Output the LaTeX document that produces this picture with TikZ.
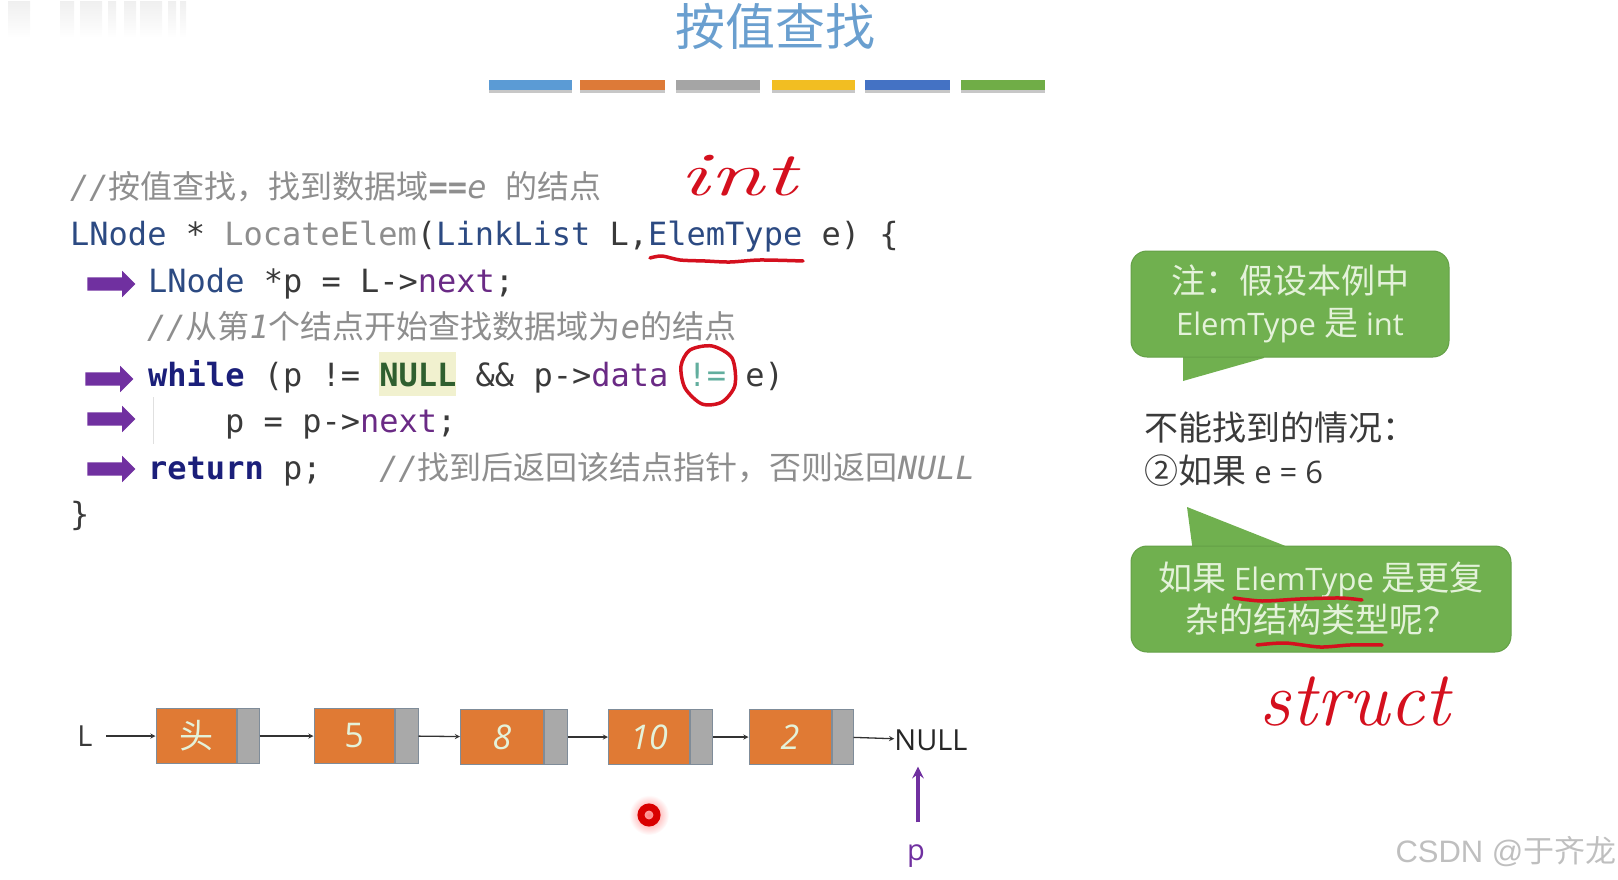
\documentclass[tikz,border=0pt]{standalone}
\usepackage{fontspec}
\setmonofont{DejaVu Sans Mono}
\newfontfamily\cjk{Noto Sans CJK SC}
\newfontfamily\ui{Open Sans}
\usetikzlibrary{shapes.arrows}
\definecolor{titleblue}{HTML}{6A9FCF}
\definecolor{codedark}{HTML}{3A3A3A}
\definecolor{cmtgray}{HTML}{8E8E8E}
\definecolor{kwnavy}{HTML}{1B1F7A}
\definecolor{tyblue}{HTML}{2C4A82}
\definecolor{fdpurple}{HTML}{6A2A85}
\definecolor{nullbg}{HTML}{F1F1CF}
\definecolor{nullgreen}{HTML}{2F5F2F}
\definecolor{neteal}{HTML}{62AE9E}
\definecolor{arrowpurple}{HTML}{7030A0}
\definecolor{calloutgreen}{HTML}{70B04F}
\definecolor{calloutline}{HTML}{64A047}
\definecolor{paletext}{HTML}{E4F2DA}
\definecolor{boxorange}{HTML}{E07A34}
\definecolor{boxgray}{HTML}{A9A9A9}
\definecolor{boxedge}{HTML}{7F8C99}
\definecolor{inkred}{HTML}{D4101E}
\newcommand{\kw}[1]{{\bfseries\color{kwnavy}#1}}
\newcommand{\ty}[1]{{\color{tyblue}#1}}
\newcommand{\fd}[1]{{\color{fdpurple}#1}}
\newcommand{\zh}[1]{{\cjk #1}}
\newcommand{\zhl}[1]{{\cjk\fontsize{34}{42}\selectfont #1}}
\tikzset{
	codeline/.style={anchor=base west, inner sep=0pt, text=codedark, font=\ttfamily\fontsize{32}{38}\selectfont},
	cmtline/.style={codeline, text=cmtgray},
	pointer/.style={single arrow, draw=none, fill=arrowpurple, inner xsep=0pt, inner ysep=6.5pt, minimum height=48pt, minimum width=26pt, single arrow head extend=6.5pt, single arrow head indent=0pt},
	callout/.style={fill=calloutgreen, draw=calloutline, line width=1pt, rounded corners=16pt, text=paletext, align=center, inner sep=0pt, font=\ui\fontsize{31}{42}\selectfont},
	datacell/.style={fill=boxorange, draw=boxedge, line width=1pt, minimum height=55pt, inner sep=0pt, text=paletext, font=\ui\fontsize{34}{40}\selectfont},
	nextcell/.style={fill=boxgray, draw=boxedge, line width=1pt, minimum height=55pt, inner sep=0pt},
	link/.style={->, line width=1.3pt, color=black!80},
	ink/.style={color=inkred, line width=3.5pt, line cap=round, line join=round},
	inktext/.style={text=inkred, inner sep=0pt, font=\itshape\fontsize{#1}{#1}\selectfont}
}
\begin{document}
\begin{tikzpicture}[x=1pt, y=-1pt, >=stealth]
	\useasboundingbox (0,0) rectangle (1618,880);
	% 1. 左上角残影与标题色条
	\foreach \gx/\gw in {8/22, 60/14, 80/22, 108/8, 124/12, 140/22, 168/8, 180/6}
		\shade[top color=black!6, bottom color=white] (\gx,2) rectangle ++(\gw,36);
	\node[text=titleblue, inner sep=0pt, font=\cjk\fontsize{50}{50}\selectfont] (title) at (775,26) {按值查找};
	\foreach \bx/\bw/\bc in {489/83/5B9BD5, 580/85/DD7A38, 676/84/A5A5A5, 772/83/F2BE22, 865/85/4472C4, 961/84/70AD47}{
		\definecolor{barcolor}{HTML}{\bc}
		\fill[black!22] (\bx,83) rectangle ++(\bw,10);
		\fill[barcolor] (\bx,80) rectangle ++(\bw,10);
	}
	
	% 2. 代码行
	\fill[nullbg] (379,352) rectangle (456,396);
	\draw[black!12, line width=1pt] (153,397) -- (153,444);
	\node[cmtline] (code1) at (70,199) {\itshape //\zh{\upshape 按值查找，找到数据域}\bfseries ==\mdseries e~\zh{\upshape 的结点}};
	\node[codeline] (code2) at (70,245) {\ty{LNode} * {\color{cmtgray}LocateElem}(\ty{LinkList} L,\ty{ElemType} e) \{};
	\node[codeline] (code3) at (148,292) {\ty{LNode} *p = L->\fd{next};};
	\node[cmtline] (code4) at (147,338) {\itshape //\zh{\upshape 从第}1\zh{\upshape 个结点开始查找数据域为}e\zh{\upshape 的结点}};
	\node[codeline] (code5) at (148,386) {\kw{while} (p != {\bfseries\color{nullgreen}NULL} \&\& p->\fd{data} {\color{neteal}!=} e)};
	\node[codeline] (code6) at (225,432) {p = p->\fd{next};};
	\node[codeline] (code7) at (148,479) {\kw{return} p;~~~{\color{cmtgray}\itshape //\zh{\upshape 找到后返回该结点指针，否则返回}NULL}};
	\node[codeline] (code8) at (70,525) {\}};
	
	% 3. 紫色指示箭头
	\node[pointer] (arrow1) at (108,284) {};
	\node[pointer] (arrow2) at (106,379) {};
	\node[pointer] (arrow3) at (108,419) {};
	\node[pointer] (arrow4) at (108,469) {};
	
	% 4. 右侧绿色提示框
	\fill[calloutgreen] (1183,350) -- (1183,381) -- (1264,358) -- (1264,350) -- cycle;
	\node[callout, minimum width=318pt, minimum height=106pt] (note) at (1290,304) {\zhl{注：假设本例中}\\ElemType \zhl{是} int};
	\fill[calloutgreen] (1193,552) -- (1187,507) -- (1288,547) -- (1288,552) -- cycle;
	\node[callout, minimum width=380pt, minimum height=106pt] (struct) at (1321,599) {\zhl{如果} ElemType \zhl{是更复}\\\zhl{杂的结构类型呢？}};
	\node[anchor=base west, inner sep=0pt, text=codedark, align=left, font=\ui\fontsize{31}{43}\selectfont] (fail) at (1144,483) {\zhl{不能找到的情况：}\\\zhl{②如果} e = 6};
	
	% 5. 单链表结点
	\node[inner sep=0pt, minimum width=42pt, text=codedark, font=\ui\fontsize{29}{34}\selectfont] (L) at (85,736) {L};
	\node[datacell, minimum width=80pt] (head) at (196,736) {\zh{头}};
	\node[nextcell, minimum width=22pt, anchor=west] (headnext) at (head.east) {};
	\node[datacell, minimum width=80pt] (five) at (354,736) {5};
	\node[nextcell, minimum width=23pt, anchor=west] (fivenext) at (five.east) {};
	\node[datacell, minimum width=83pt] (eight) at (502,737) {\itshape 8};
	\node[nextcell, minimum width=23pt, anchor=west] (eightnext) at (eight.east) {};
	\node[datacell, minimum width=81pt] (ten) at (649,737) {\itshape 10};
	\node[nextcell, minimum width=22pt, anchor=west] (tennext) at (ten.east) {};
	\node[datacell, minimum width=82pt] (two) at (790,737) {\itshape 2};
	\node[nextcell, minimum width=21pt, anchor=west] (twonext) at (two.east) {};
	\node[inner sep=0pt, text=black!85, font=\ui\fontsize{29}{34}\selectfont] (nullnode) at (931,740) {NULL};
	\node[inner sep=0pt, text=arrowpurple, font=\ui\fontsize{29}{34}\selectfont] (p) at (916,856) {p};
	\draw[link] (L) -- (head);
	\draw[link] (headnext) -- (five);
	\draw[link] (fivenext) -- (eight);
	\draw[link] (eightnext) -- (ten);
	\draw[link] (tennext) -- (two);
	\draw[link] (twonext) -- (nullnode);
	\draw[->, line width=4pt, color=arrowpurple, shorten <=22pt, shorten >=16pt] (p.north) ++(2,0) coordinate (ptail) -- (ptail |- nullnode.south);
	
	% 6. 激光笔红点
	\shade[inner color=red!50, outer color=white] (649,815) circle (20);
	\draw[color=red!85!black, line width=7pt] (649,815) circle (8);
	
	% 7. 红色手写批注
	\node[inktext=62] (inkint) at (738,176) {\scalebox{1.6}[1]{int}};
	\node[inktext=78] (inkstruct) at (1355,702) {struct};
	\draw[ink] plot[smooth] coordinates {(650,258) (662,256) (680,260) (705,261) (730,262) (760,260) (803,261)};
	\draw[ink] plot[smooth cycle] coordinates {(690,350) (712,346) (732,358) (735,385) (722,402) (702,404) (685,388) (681,366)};
	\draw[ink] plot[smooth] coordinates {(1234,598) (1262,601) (1300,599) (1340,598) (1362,600)};
	\draw[ink] plot[smooth] coordinates {(1257,645) (1285,643) (1320,647) (1350,645) (1382,645)};
	
	% 8. 水印
	\node[inner sep=0pt, text=black!25, font=\fontspec{Liberation Sans}\fontsize{31}{34}\selectfont] (mark) at (1506,852) {CSDN @\zh{于齐龙}};
\end{tikzpicture}
\end{document}
